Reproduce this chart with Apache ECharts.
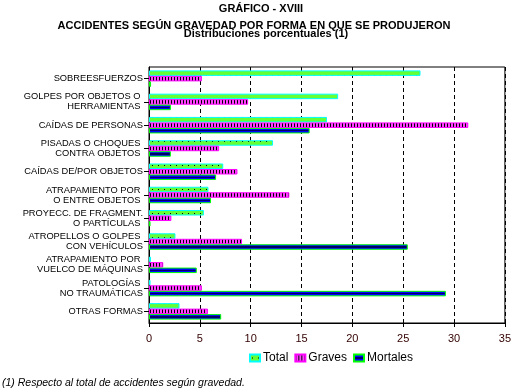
<!DOCTYPE html>
<html>
<head>
<meta charset="utf-8">
<script src="https://cdn.jsdelivr.net/npm/echarts@6/dist/echarts.min.js"></script>
<style>
  html, body { margin: 0; padding: 0; background: #fff; }
  #chart { width: 514px; height: 391px; }
</style>
</head>
<body>
<div id="chart"></div>
<script>
// categorias (eje vertical)
var categorias = [
  'SOBREESFUERZOS',
  'GOLPES POR OBJETOS O \nHERRAMIENTAS ',
  'CAÍDAS DE PERSONAS',
  'PISADAS O CHOQUES \nCONTRA OBJETOS ',
  'CAÍDAS DE/POR OBJETOS',
  'ATRAPAMIENTO POR \nO ENTRE OBJETOS ',
  'PROYECC. DE FRAGMENT.\nO PARTÍCULAS ',
  'ATROPELLOS O GOLPES \nCON VEHÍCULOS',
  'ATRAPAMIENTO POR \nVUELCO DE MÁQUINAS',
  'PATOLOGÍAS \nNO TRAUMÁTICAS',
  'OTRAS FORMAS'
]
var total = [26.7, 18.6, 17.5, 12.2, 7.3, 5.85, 5.4, 2.6, 0.2, 0.15, 3.0]
var graves = [5.2, 9.75, 31.4, 6.9, 8.7, 13.8, 2.2, 9.15, 1.4, 5.2, 5.8]
var mortales = [0.2, 2.15, 15.8, 2.15, 6.6, 6.1, 0.15, 25.45, 4.7, 29.2, 7.1]
var ticksX = [0, 5, 10, 15, 20, 25, 30, 35]

// tramas
function puntos () {
  var c = document.createElement('canvas')
  c.width = 6; c.height = 6
  var ctx = c.getContext('2d')
  ctx.fillStyle = '#66ff33'
  ctx.fillRect(0, 0, 6, 6)
  ctx.fillStyle = '#000'
  ctx.fillRect(2, 3, 1, 1)
  return c
}
function rayas () {
  var c = document.createElement('canvas')
  c.width = 3; c.height = 3
  var ctx = c.getContext('2d')
  ctx.fillStyle = '#ff44ff'
  ctx.fillRect(0, 0, 3, 3)
  ctx.fillStyle = '#000'
  ctx.fillRect(0, 0, 1, 3)
  return c
}

var font = 'Liberation Sans'
var chart = echarts.init(document.getElementById('chart'))
chart.setOption({
  animation: false,
  textStyle: { fontFamily: font },
  graphic: [
    { type: 'text', x: 261, y: 3, style: { text: 'GRÁFICO - XVIII', textAlign: 'center', fill: '#000', font: 'bold 11px "Liberation Sans"' } },
    { type: 'text', x: 254, y: 20, style: { text: 'ACCIDENTES SEGÚN GRAVEDAD POR FORMA EN QUE SE PRODUJERON', textAlign: 'center', fill: '#000', font: 'bold 11px "Liberation Sans"' } },
    { type: 'text', x: 266, y: 28, style: { text: 'Distribuciones porcentuales (1)', textAlign: 'center', fill: '#000', font: 'bold 11px "Liberation Sans"' } },
    { type: 'text', x: 2, y: 378, style: { text: '(1) Respecto al total de accidentes según gravedad.', fill: '#000', font: 'italic 10.5px "Liberation Sans"' } }
  ],
  legend: {
    left: 249,
    top: 352,
    padding: 0,
    icon: 'rect',
    itemWidth: 10,
    itemHeight: 7,
    itemGap: 6,
    textStyle: { color: '#000', fontSize: 12, fontFamily: font, padding: [0, 0, 0, -2] },
    data: ['Total', 'Graves', 'Mortales']
  },
  grid: {
    left: 149,
    right: 7,
    top: 67,
    bottom: 68,
    show: true,
    borderColor: '#000',
    borderWidth: 1
  },
  xAxis: {
    type: 'value',
    min: 0,
    max: 35,
    interval: 5,
    axisLine: { show: true, lineStyle: { color: '#000', width: 1 } },
    axisTick: { show: true, length: 4, lineStyle: { color: '#000' } },
    axisLabel: { color: '#330000', fontSize: 11, margin: 10, formatter: function (v) { return ticksX.indexOf(v) >= 0 ? String(v) : '' } },
    splitLine: { show: true, lineStyle: { color: '#000', type: [4, 3], width: 1 } }
  },
  yAxis: {
    type: 'category',
    inverse: true,
    data: categorias,
    axisLine: { show: true, lineStyle: { color: '#000', width: 1 } },
    axisTick: { show: true, length: 5, alignWithLabel: true, lineStyle: { color: '#000' } },
    axisLabel: { color: '#000', fontSize: 9.3, lineHeight: 10, margin: 6, align: 'right' }
  },
  series: [
    {
      name: 'Total',
      type: 'bar',
      data: total,
      barWidth: 5.5,
      barGap: '0%',
      itemStyle: { color: { image: puntos(), repeat: 'repeat' }, borderColor: '#00ffff', borderWidth: 1 }
    },
    {
      name: 'Graves',
      type: 'bar',
      data: graves,
      barWidth: 5.5,
      barGap: '0%',
      itemStyle: { color: { image: rayas(), repeat: 'repeat' }, borderColor: '#ff00ff', borderWidth: 1 }
    },
    {
      name: 'Mortales',
      type: 'bar',
      data: mortales,
      barWidth: 5.5,
      barGap: '0%',
      itemStyle: {
        color: {
          type: 'linear', x: 0, y: 0, x2: 0, y2: 1,
          colorStops: [
            { offset: 0, color: '#0000ff' }, { offset: 0.38, color: '#0000ff' },
            { offset: 0.38, color: '#000066' }, { offset: 0.62, color: '#000066' },
            { offset: 0.62, color: '#0000ff' }, { offset: 1, color: '#0000ff' }
          ]
        },
        borderColor: '#00ff00',
        borderWidth: 1
      }
    }
  ]
})
</script>
</body>
</html>
